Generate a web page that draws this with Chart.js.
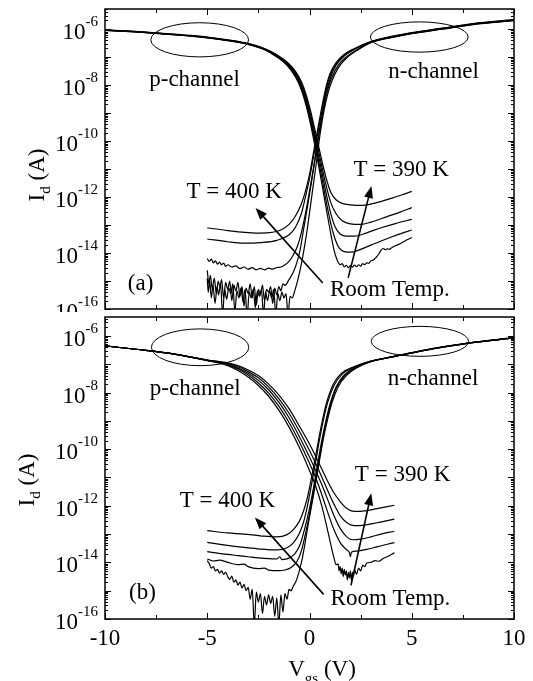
<!DOCTYPE html>
<html>
<head>
<meta charset="utf-8">
<script src="https://cdn.jsdelivr.net/npm/chart.js@4.4.1/dist/chart.umd.min.js"></script>
<style>
  body { margin: 0; background: #fff; }
  #wrap { position: relative; width: 533px; height: 681px; overflow: hidden; background: #fff; }
  #wrap canvas { position: absolute; left: 0; }
  #chartA { top: 0; }
  #chartB { top: 312px; }
</style>
</head>
<body>
<div id="wrap">
  <canvas id="chartA" width="533" height="312"></canvas>
  <canvas id="chartB" width="533" height="369"></canvas>
</div>
<script>
// Id–Vgs transfer curves, two devices, 5 temperatures each (room temp ... 400 K).
// Each point is [Vgs (V), log10 Id (A)].

// ---- axes ----
const xMajorTicks = [-10, -5, 0, 5, 10];
const xMinorTicks = [-7.5, -2.5, 2.5, 7.5];
const xTickLabels = ["-10", "-5", "0", "5", "10"];
const yLabelExps = [-16, -14, -12, -10, -8, -6];
const yDecades = [-16, -15, -14, -13, -12, -11, -10, -9, -8, -7, -6];

// ---- (a) p-channel branch, 400 K -> room temp ----
const pA1 = [[-10,-6.03],[-8.5,-6.09],[-7,-6.17],[-5,-6.29],[-4,-6.39],[-3,-6.52],[-2.2,-6.7],[-1.6,-6.92],[-1.1,-7.18],[-0.7,-7.5],[-0.4,-7.88],[-0.15,-8.38],[0.05,-8.92],[0.25,-9.55],[0.45,-10.2],[0.65,-10.85],[0.85,-11.42],[1.05,-11.85],[1.3,-12.1],[1.6,-12.23],[2.0,-12.28],[2.6,-12.3],[3.2,-12.22],[4.0,-12.05],[4.5,-11.93],[5,-11.8]];
const pA2 = [[-10,-6.04],[-8.5,-6.1],[-7,-6.18],[-5,-6.3],[-4,-6.4],[-3,-6.53],[-2.2,-6.71],[-1.6,-6.94],[-1.1,-7.21],[-0.7,-7.55],[-0.4,-7.95],[-0.15,-8.48],[0.05,-9.04],[0.25,-9.7],[0.45,-10.38],[0.65,-11.07],[0.85,-11.7],[1.05,-12.22],[1.3,-12.6],[1.6,-12.85],[2.0,-12.96],[2.5,-12.98],[3.0,-12.9],[3.8,-12.7],[4.4,-12.55],[5,-12.38]];
const pA3 = [[-10,-6.04],[-8.5,-6.1],[-7,-6.18],[-5,-6.31],[-4,-6.41],[-3,-6.54],[-2.2,-6.72],[-1.6,-6.96],[-1.1,-7.24],[-0.7,-7.6],[-0.4,-8.02],[-0.15,-8.58],[0.05,-9.16],[0.25,-9.84],[0.45,-10.55],[0.65,-11.28],[0.85,-12.0],[1.05,-12.62],[1.25,-13.06],[1.5,-13.32],[1.8,-13.4],[2.2,-13.4],[2.8,-13.28],[3.5,-13.1],[4.2,-12.95],[5,-12.8]];
const pA4 = [[-10,-6.05],[-8.5,-6.11],[-7,-6.19],[-5,-6.31],[-4,-6.41],[-3,-6.55],[-2.2,-6.73],[-1.6,-6.98],[-1.1,-7.27],[-0.7,-7.65],[-0.4,-8.1],[-0.15,-8.68],[0.05,-9.28],[0.25,-9.98],[0.45,-10.72],[0.65,-11.5],[0.85,-12.28],[1.05,-12.98],[1.25,-13.5],[1.45,-13.82],[1.7,-13.95],[2.0,-13.97],[2.4,-13.9],[3.0,-13.72],[3.5,-13.57],[4.0,-13.43],[4.5,-13.3],[5,-13.18]];
const pA5 = [[-10,-6.05],[-8.5,-6.11],[-7,-6.19],[-5,-6.32],[-4,-6.42],[-3,-6.55],[-2.2,-6.74],[-1.6,-7.0],[-1.1,-7.3],[-0.7,-7.7],[-0.4,-8.17],[-0.15,-8.78],[0.05,-9.4],[0.25,-10.12],[0.45,-10.9],[0.65,-11.72],[0.85,-12.55],[1.05,-13.35],[1.2,-13.9],[1.35,-14.25],[1.5,-14.42],[1.6,-14.38],[1.7,-14.5],[1.8,-14.44],[1.9,-14.53],[2.0,-14.45],[2.1,-14.51],[2.2,-14.43],[2.3,-14.49],[2.4,-14.42],[2.5,-14.47],[2.6,-14.38],[2.7,-14.42],[2.8,-14.35],[2.9,-14.37],[3.0,-14.28],[3.1,-14.26],[3.2,-14.2],[3.3,-14.12],[3.4,-14.02],[3.5,-13.9],[3.6,-13.84],[3.7,-13.88],[3.8,-13.85],[3.9,-13.87],[4.0,-13.82],[4.2,-13.74],[4.4,-13.68],[4.6,-13.6],[4.8,-13.52],[5,-13.45]];

// ---- (a) n-channel branch ----
const nA1 = [[-5,-13.1],[-4,-13.2],[-3,-13.27],[-2.4,-13.29],[-1.8,-13.26],[-1.4,-13.18],[-1,-12.98],[-0.7,-12.7],[-0.4,-12.25],[-0.2,-11.8],[0,-11.2],[0.2,-10.4],[0.4,-9.6],[0.6,-8.8],[0.8,-8.1],[1.0,-7.6],[1.3,-7.2],[1.7,-6.9],[2.2,-6.7],[3,-6.45],[4,-6.27],[5,-6.13],[6.5,-5.97],[8,-5.81],[10,-5.67]];
const nA2 = [[-5,-13.5],[-4,-13.6],[-3.2,-13.65],[-2.4,-13.63],[-1.6,-13.55],[-1,-13.35],[-0.7,-13.1],[-0.4,-12.6],[-0.2,-12.0],[0,-11.35],[0.2,-10.55],[0.4,-9.75],[0.6,-8.95],[0.8,-8.2],[1.0,-7.68],[1.3,-7.25],[1.7,-6.93],[2.2,-6.72],[3,-6.46],[4,-6.28],[5,-6.14],[6.5,-5.98],[8,-5.82],[10,-5.68]];
const nA3 = [[-5,-14.2],[-4.9,-14.3],[-4.8,-14.22],[-4.7,-14.35],[-4.6,-14.28],[-4.5,-14.4],[-4.4,-14.33],[-4.3,-14.42],[-4.2,-14.36],[-4.1,-14.48],[-4.0,-14.42],[-3.8,-14.5],[-3.6,-14.46],[-3.4,-14.56],[-3.2,-14.5],[-3.0,-14.58],[-2.8,-14.52],[-2.6,-14.6],[-2.4,-14.55],[-2.2,-14.6],[-2.0,-14.54],[-1.8,-14.58],[-1.6,-14.52],[-1.4,-14.5],[-1.2,-14.42],[-1.0,-14.3],[-0.8,-14.08],[-0.6,-13.78],[-0.4,-13.28],[-0.2,-12.6],[0,-11.8],[0.2,-10.95],[0.4,-10.05],[0.6,-9.15],[0.8,-8.35],[1.0,-7.8],[1.3,-7.3],[1.7,-6.97],[2.2,-6.73],[3,-6.47],[4,-6.29],[5,-6.15],[6.5,-5.99],[8,-5.83],[10,-5.69]];
const nA4 = [[-5,-14.62],[-4.92,-15.1],[-4.85,-14.8],[-4.75,-15.3],[-4.66,-14.9],[-4.55,-15.45],[-4.47,-15.0],[-4.38,-15.2],[-4.3,-14.95],[-4.2,-15.6],[-4.1,-15.05],[-4.0,-15.3],[-3.9,-15.0],[-3.8,-15.7],[-3.7,-15.15],[-3.6,-15.35],[-3.5,-15.05],[-3.4,-15.55],[-3.3,-15.2],[-3.2,-15.9],[-3.1,-15.25],[-3.0,-15.45],[-2.9,-15.1],[-2.8,-15.6],[-2.7,-15.2],[-2.6,-15.85],[-2.5,-15.3],[-2.4,-15.5],[-2.3,-15.15],[-2.2,-15.7],[-2.1,-15.3],[-2.0,-15.4],[-1.9,-15.2],[-1.8,-15.8],[-1.7,-15.25],[-1.6,-15.5],[-1.5,-15.2],[-1.4,-15.35],[-1.3,-15.1],[-1.2,-15.15],[-1.0,-14.95],[-0.8,-14.7],[-0.6,-14.3],[-0.45,-13.85],[-0.3,-13.2],[-0.1,-12.35],[0.1,-11.45],[0.3,-10.5],[0.5,-9.6],[0.7,-8.8],[0.9,-8.15],[1.1,-7.72],[1.4,-7.3],[1.8,-7.0],[2.3,-6.75],[3,-6.48],[4,-6.3],[5,-6.16],[6.5,-6.0],[8,-5.84],[10,-5.7]];
const nA5 = [[-5,-14.9],[-4.95,-15.4],[-4.88,-15.0],[-4.8,-15.6],[-4.72,-15.15],[-4.62,-15.8],[-4.52,-15.2],[-4.45,-15.5],[-4.35,-15.1],[-4.25,-16.2],[-4.15,-15.3],[-4.05,-15.65],[-3.95,-15.25],[-3.85,-15.45],[-3.75,-15.1],[-3.65,-16.1],[-3.55,-15.35],[-3.45,-15.6],[-3.35,-15.25],[-3.25,-15.75],[-3.15,-15.3],[-3.05,-16.3],[-2.95,-15.4],[-2.85,-15.6],[-2.75,-15.3],[-2.65,-15.95],[-2.55,-15.35],[-2.45,-15.55],[-2.35,-15.3],[-2.25,-16.2],[-2.15,-15.4],[-2.05,-15.7],[-1.95,-15.35],[-1.85,-15.6],[-1.75,-15.3],[-1.65,-16.2],[-1.55,-15.45],[-1.45,-15.7],[-1.35,-15.4],[-1.25,-15.6],[-1.15,-15.45],[-1.05,-16.2],[-0.95,-15.55],[-0.85,-15.6],[-0.7,-15.3],[-0.55,-14.9],[-0.4,-14.4],[-0.25,-13.8],[-0.1,-13.1],[0.05,-12.3],[0.2,-11.5],[0.35,-10.7],[0.5,-9.85],[0.7,-8.95],[0.9,-8.3],[1.1,-7.85],[1.4,-7.4],[1.8,-7.05],[2.3,-6.78],[3,-6.49],[4,-6.31],[5,-6.17],[6.5,-6.01],[8,-5.85],[10,-5.71]];

// ---- (b) p-channel branch ----
const pB1 = [[-10,-6.35],[-8.5,-6.47],[-7,-6.6],[-6,-6.72],[-5,-6.85],[-4,-6.95],[-3.5,-7.05],[-3,-7.2],[-2.5,-7.4],[-2,-7.7],[-1.5,-8.08],[-1,-8.57],[-0.5,-9.18],[0,-9.82],[0.3,-10.25],[0.6,-10.7],[0.9,-11.15],[1.2,-11.55],[1.5,-11.85],[1.8,-12.08],[2.2,-12.2],[2.7,-12.18],[3.3,-12.1],[4.15,-11.98]];
const pB2 = [[-10,-6.35],[-8.5,-6.47],[-7,-6.6],[-6,-6.72],[-5,-6.85],[-4,-6.97],[-3.5,-7.09],[-3,-7.26],[-2.5,-7.48],[-2,-7.8],[-1.5,-8.21],[-1,-8.73],[-0.5,-9.36],[0,-10.05],[0.3,-10.5],[0.6,-10.98],[0.9,-11.48],[1.2,-11.95],[1.5,-12.35],[1.8,-12.58],[2.2,-12.7],[2.7,-12.68],[3.3,-12.6],[4.15,-12.47]];
const pB3 = [[-10,-6.35],[-8.5,-6.47],[-7,-6.6],[-6,-6.72],[-5,-6.86],[-4,-7.0],[-3.5,-7.13],[-3,-7.32],[-2.5,-7.57],[-2,-7.9],[-1.5,-8.34],[-1,-8.89],[-0.5,-9.55],[0,-10.28],[0.3,-10.75],[0.6,-11.25],[0.9,-11.8],[1.2,-12.35],[1.5,-12.8],[1.8,-13.08],[2.1,-13.2],[2.5,-13.18],[3,-13.1],[3.5,-13.0],[4.15,-12.9]];
const pB4 = [[-10,-6.35],[-8.5,-6.47],[-7,-6.6],[-6,-6.72],[-5,-6.86],[-4,-7.02],[-3.5,-7.17],[-3,-7.38],[-2.5,-7.66],[-2,-8.02],[-1.5,-8.48],[-1,-9.06],[-0.5,-9.74],[0,-10.5],[0.3,-11.0],[0.6,-11.6],[0.9,-12.25],[1.2,-12.85],[1.5,-13.3],[1.8,-13.55],[1.95,-13.65],[2.0,-13.8],[2.05,-13.64],[2.3,-13.6],[2.8,-13.54],[3.3,-13.45],[3.8,-13.36],[4.15,-13.3]];
const pB5 = [[-10,-6.35],[-8.5,-6.47],[-7,-6.6],[-6,-6.72],[-5,-6.87],[-4,-7.05],[-3.5,-7.22],[-3,-7.45],[-2.5,-7.75],[-2,-8.13],[-1.5,-8.62],[-1,-9.22],[-0.5,-9.93],[0,-10.75],[0.3,-11.3],[0.6,-12.0],[0.85,-12.75],[1.05,-13.4],[1.2,-13.85],[1.3,-14.08],[1.4,-14.05],[1.45,-14.3],[1.5,-14.15],[1.55,-14.4],[1.6,-14.2],[1.65,-14.5],[1.7,-14.25],[1.75,-14.45],[1.8,-14.3],[1.85,-14.62],[1.9,-14.35],[1.95,-14.55],[2.0,-14.3],[2.05,-14.65],[2.1,-14.35],[2.15,-14.5],[2.2,-14.25],[2.3,-14.42],[2.4,-14.2],[2.5,-14.3],[2.6,-14.1],[2.7,-14.15],[2.8,-14.02],[3.0,-14.0],[3.2,-13.94],[3.4,-13.96],[3.6,-13.86],[3.8,-13.8],[4.0,-13.72],[4.15,-13.66]];

// ---- (b) n-channel branch ----
const nB1 = [[-5,-12.88],[-4,-12.96],[-3.2,-13.0],[-2.4,-13.06],[-1.6,-13.1],[-1.1,-13.02],[-0.8,-12.85],[-0.5,-12.55],[-0.3,-12.2],[-0.1,-11.7],[0.1,-11.0],[0.3,-10.25],[0.5,-9.45],[0.7,-8.75],[0.9,-8.2],[1.2,-7.65],[1.6,-7.3],[2.2,-7.08],[3,-6.89],[4,-6.74],[5,-6.59],[6,-6.45],[7.8,-6.24],[10,-6.06]];
const nB2 = [[-5,-13.29],[-4,-13.4],[-3.2,-13.47],[-2.4,-13.53],[-1.6,-13.56],[-1.1,-13.48],[-0.8,-13.32],[-0.5,-12.98],[-0.3,-12.6],[-0.1,-12.0],[0.1,-11.25],[0.3,-10.45],[0.5,-9.62],[0.7,-8.9],[0.9,-8.32],[1.2,-7.75],[1.6,-7.35],[2.2,-7.1],[3,-6.9],[4,-6.74],[5,-6.59],[6,-6.45],[7.8,-6.24],[10,-6.06]];
const nB3 = [[-5,-13.62],[-4.5,-13.67],[-4,-13.72],[-3.5,-13.76],[-3,-13.8],[-2.5,-13.84],[-2,-13.87],[-1.6,-13.88],[-1.45,-13.8],[-1.35,-13.9],[-1,-13.85],[-0.7,-13.68],[-0.45,-13.35],[-0.25,-12.85],[0,-12.1],[0.2,-11.35],[0.4,-10.5],[0.6,-9.7],[0.8,-9.0],[1.0,-8.42],[1.3,-7.8],[1.7,-7.38],[2.2,-7.12],[3,-6.9],[4,-6.75],[5,-6.6],[6,-6.46],[7.8,-6.25],[10,-6.07]];
const nB4 = [[-5,-13.88],[-4.7,-13.95],[-4.4,-13.92],[-4,-14.0],[-3.5,-14.08],[-3.2,-14.06],[-3.0,-14.15],[-2.5,-14.22],[-2.2,-14.2],[-2.0,-14.27],[-1.5,-14.29],[-1.2,-14.27],[-0.9,-14.18],[-0.6,-13.95],[-0.4,-13.6],[-0.2,-13.0],[0,-12.3],[0.2,-11.5],[0.4,-10.65],[0.6,-9.85],[0.8,-9.1],[1.0,-8.5],[1.3,-7.85],[1.7,-7.42],[2.2,-7.14],[3,-6.9],[4,-6.75],[5,-6.6],[6,-6.46],[7.8,-6.25],[10,-6.07]];
const nB5 = [[-5,-13.94],[-4.9,-14.05],[-4.8,-14.2],[-4.7,-14.15],[-4.6,-14.3],[-4.5,-14.25],[-4.4,-14.38],[-4.3,-14.3],[-4.2,-14.42],[-4.1,-14.35],[-4.0,-14.5],[-3.9,-14.6],[-3.8,-14.48],[-3.7,-14.7],[-3.6,-14.62],[-3.5,-14.8],[-3.4,-14.7],[-3.3,-14.9],[-3.2,-14.78],[-3.1,-15.0],[-3.0,-14.88],[-2.9,-15.3],[-2.8,-14.95],[-2.7,-16.2],[-2.6,-15.05],[-2.5,-15.4],[-2.4,-15.1],[-2.3,-15.8],[-2.2,-15.2],[-2.1,-15.5],[-2.0,-15.15],[-1.9,-15.45],[-1.8,-15.2],[-1.7,-15.9],[-1.6,-15.25],[-1.5,-16.2],[-1.4,-15.15],[-1.3,-15.75],[-1.2,-15.1],[-1.1,-15.3],[-1.0,-14.95],[-0.9,-15.0],[-0.8,-14.85],[-0.65,-14.65],[-0.5,-14.3],[-0.35,-13.85],[-0.2,-13.25],[-0.05,-12.6],[0.1,-12.0],[0.3,-11.2],[0.5,-10.35],[0.7,-9.55],[0.9,-8.9],[1.1,-8.35],[1.4,-7.8],[1.8,-7.4],[2.3,-7.13],[3,-6.91],[4,-6.75],[5,-6.6],[6,-6.46],[7.8,-6.25],[10,-6.07]];

const FONT = '"Liberation Serif", "Times New Roman", serif';

function setFont(ctx, size) { ctx.font = size + "px " + FONT; }

// "10" with a raised exponent, right-aligned at `right`, centred on cy
function powLabel(ctx, right, cy, exp) {
  setFont(ctx, 15);
  const ew = ctx.measureText(exp).width;
  setFont(ctx, 23);
  const bw = ctx.measureText("10").width;
  const x0 = right - ew - bw;
  ctx.textAlign = "left";
  ctx.textBaseline = "alphabetic";
  ctx.fillText("10", x0, cy + 10);
  setFont(ctx, 15);
  ctx.fillText(exp, x0 + bw, cy - 3);
}

// text runs [text, size, dy], centred on cx
function runText(ctx, parts, cx, baseline) {
  let w = 0;
  parts.forEach(([t, s]) => { setFont(ctx, s); w += ctx.measureText(t).width; });
  let x = cx - w / 2;
  ctx.textAlign = "left";
  ctx.textBaseline = "alphabetic";
  parts.forEach(([t, s, dy]) => {
    setFont(ctx, s);
    ctx.fillText(t, x, baseline + dy);
    x += ctx.measureText(t).width;
  });
}

function arrow(ctx, x1, y1, x2, y2) {
  const a = Math.atan2(y2 - y1, x2 - x1);
  const L = 12, W = 4.5;
  const c = Math.cos(a), s = Math.sin(a);
  ctx.beginPath();
  ctx.moveTo(x1, y1);
  ctx.lineTo(x2 - L * 0.7 * c, y2 - L * 0.7 * s);
  ctx.stroke();
  ctx.beginPath();
  ctx.moveTo(x2, y2);
  ctx.lineTo(x2 - L * c + W * s, y2 - L * s - W * c);
  ctx.lineTo(x2 - L * c - W * s, y2 - L * s + W * c);
  ctx.closePath();
  ctx.fill();
}

const panelPlugin = {
  id: "panel",
  afterDatasetsDraw(chart, args, o) {
    const { ctx, chartArea: a, scales: { x, y } } = chart;
    const px = v => x.getPixelForValue(v);
    const py = e => y.getPixelForValue(Math.pow(10, e));
    ctx.save();
    ctx.strokeStyle = "#000";
    ctx.fillStyle = "#000";

    // frame
    ctx.lineWidth = 1.5;
    ctx.strokeRect(a.left, a.top, a.right - a.left, a.bottom - a.top);

    // inward ticks
    ctx.lineWidth = 1;
    ctx.beginPath();
    const xt = (v, len) => {
      const X = Math.round(px(v)) + 0.5;
      ctx.moveTo(X, a.bottom); ctx.lineTo(X, a.bottom - len);
      ctx.moveTo(X, a.top); ctx.lineTo(X, a.top + len);
    };
    xMajorTicks.forEach(v => xt(v, 6));
    xMinorTicks.forEach(v => xt(v, 4));
    const yt = (val, len) => {
      const Y = Math.round(y.getPixelForValue(val)) + 0.5;
      if (Y < a.top || Y > a.bottom + 1) return;
      ctx.moveTo(a.left, Y); ctx.lineTo(a.left + len, Y);
      ctx.moveTo(a.right, Y); ctx.lineTo(a.right - len, Y);
    };
    yDecades.forEach(d => {
      yt(Math.pow(10, d), 6);
      for (let k = 2; k <= 9; k++) yt(k * Math.pow(10, d), 3);
    });
    ctx.stroke();

    // y tick labels
    yLabelExps.forEach(e => powLabel(ctx, a.left - 7, py(e), String(e)));

    // x tick labels
    if (o.xLabels) {
      setFont(ctx, 23);
      ctx.textAlign = "center";
      ctx.textBaseline = "alphabetic";
      xMajorTicks.forEach((v, i) => ctx.fillText(xTickLabels[i], px(v), a.bottom + 26));
    }

    // axis titles
    ctx.save();
    ctx.translate(o.yTitle[0], o.yTitle[1]);
    ctx.rotate(-Math.PI / 2);
    runText(ctx, [["I", 23, 0], ["d", 15, 6], [" (A)", 23, 0]], 0, 0);
    ctx.restore();
    if (o.xTitle) {
      runText(ctx, [["V", 23, 0], ["gs", 15, 7], [" (V)", 23, 0]], o.xTitle[0], o.xTitle[1]);
    }

    // ellipses around the on-state branches
    ctx.lineWidth = 1;
    o.ellipses.forEach(([v, e, rv, re]) => {
      ctx.beginPath();
      ctx.ellipse(px(v), py(e), px(v + rv) - px(v), py(e - re) - py(e), 0, 0, Math.PI * 2);
      ctx.stroke();
    });

    // notes
    setFont(ctx, 23);
    ctx.textAlign = "center";
    ctx.textBaseline = "middle";
    o.notes.forEach(([t, v, e]) => ctx.fillText(t, px(v), py(e)));

    // arrows
    ctx.lineWidth = 1.6;
    o.arrows.forEach(([v1, e1, v2, e2]) => arrow(ctx, px(v1), py(e1), px(v2), py(e2)));

    ctx.restore();
  }
};

function makePanel(id, curves, yMaxExp, padding, decor) {
  return new Chart(document.getElementById(id), {
    type: "line",
    data: {
      datasets: curves.map(c => ({
        data: c.map(([v, e]) => ({ x: v, y: Math.pow(10, e) })),
        borderColor: "#000",
        borderWidth: 1.2,
        pointRadius: 0,
        fill: false,
        cubicInterpolationMode: "monotone"
      }))
    },
    options: {
      responsive: false,
      animation: false,
      devicePixelRatio: 1,
      events: [],
      layout: { padding },
      scales: {
        x: { type: "linear", min: -10, max: 10, display: false },
        y: { type: "logarithmic", min: 1e-16, max: Math.pow(10, yMaxExp), display: false }
      },
      plugins: {
        legend: { display: false },
        tooltip: { enabled: false },
        panel: decor
      }
    },
    plugins: [panelPlugin]
  });
}

makePanel("chartA", [pA1, pA2, pA3, pA4, pA5, nA1, nA2, nA3, nA4, nA5], -5.29,
  { left: 105, right: 19, top: 9, bottom: 3 },
  {
    xLabels: false,
    yTitle: [44, 175],
    xTitle: null,
    ellipses: [[-5.37, -6.39, 2.39, 0.61], [5.37, -6.29, 2.39, 0.54]],
    notes: [
      ["p-channel", -5.62, -7.82], ["n-channel", 6.07, -7.54],
      ["T = 390 K", 4.48, -11.04], ["T = 400 K", -3.68, -11.82],
      ["Room Temp.", 3.93, -15.32], ["(a)", -8.26, -15.1]
    ],
    arrows: [[0.65, -15.07, -2.64, -12.39], [1.89, -14.89, 3.03, -11.61]]
  });

makePanel("chartB", [pB1, pB2, pB3, pB4, pB5, nB1, nB2, nB3, nB4, nB5], -5.33,
  { left: 105, right: 19, top: 5, bottom: 62 },
  {
    xLabels: true,
    yTitle: [34, 168],
    xTitle: [322, 364],
    ellipses: [[-5.35, -6.4, 2.38, 0.65], [5.4, -6.19, 2.38, 0.53]],
    notes: [
      ["p-channel", -5.59, -7.88], ["n-channel", 6.04, -7.53],
      ["T = 390 K", 4.55, -10.92], ["T = 400 K", -4.01, -11.84],
      ["Room Temp.", 3.96, -15.28], ["(b)", -8.17, -15.07]
    ],
    arrows: [[0.69, -15.13, -2.67, -12.41], [2.03, -14.81, 3.02, -11.56]]
  });
</script>
</body>
</html>
